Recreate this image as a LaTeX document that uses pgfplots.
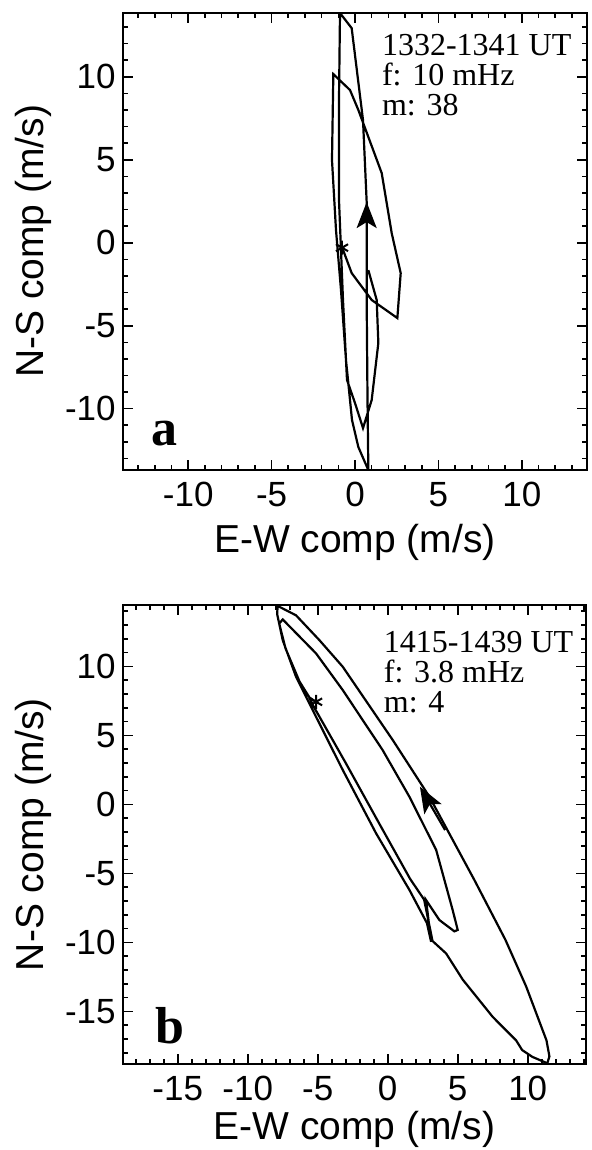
\documentclass[border=0pt]{standalone}
\usepackage{fontspec}
\setmainfont{Liberation Serif}
\setsansfont{Liberation Sans}
\usepackage{pgfplots}
\pgfplotsset{compat=1.18}
\usetikzlibrary{arrows.meta}

\pgfplotsset{
  panel/.style={
    scale only axis,
    axis line style={line width=1pt},
    tick style={black, line width=0.8pt},
    major tick length=5pt, minor tick length=2.5pt,
    tick align=inside,
    ticklabel style={font=\sffamily\fontsize{17.5}{17.5}\selectfont},
    xticklabel style={yshift=-2.5pt},
    label style={font=\sffamily\fontsize{19.5}{19.5}\selectfont},
    xlabel={E-W comp (m/s)}, ylabel={N-S comp (m/s)},
  },
  curve/.style={black, line width=1.1pt, line join=miter, no markers},
  star/.style={black, only marks, mark=asterisk, mark size=3.5pt, mark options={line width=1pt}},
}
\tikzset{
  info/.style={anchor=north west, inner sep=0pt, align=left, font=\rmfamily\fontsize{16}{15}\selectfont},
  letter/.style={anchor=base west, inner sep=0pt, font=\rmfamily\bfseries\fontsize{26}{26}\selectfont},
}

\begin{document}
\begin{tikzpicture}
\begin{axis}[panel, name=a,
    width=232.3pt, height=228.7pt,
    xlabel style={yshift=-2pt},
    xmin=-13.93, xmax=13.93, ymin=-13.7, ymax=13.86,
    xtick={-10,-5,0,5,10}, xticklabels={-10,-5,0,5,10},
    ytick={-10,-5,0,5,10}, yticklabels={-10,-5,0,5,10},
    minor xtick={-13,...,13}, minor ytick={-13,...,13},
]
\addplot[curve] coordinates {
  (-0.78,-0.26) (-0.20,-1.83) (1.00,-3.45) (2.54,-4.54) (2.74,-1.83)
  (2.20,0.58) (1.60,4.20) (0.20,8.0) (-0.30,9.2) (-1.30,10.16)
  (-1.38,4.98) (-1.14,0.77) (-0.84,-2.85) (-0.54,-7.07) (-0.18,-10.68)
  (0.20,-12.31) (0.80,-13.7) (0.75,-9.48) (0.70,-3.45) (0.70,2.45)
  (0.48,7.39) (-0.20,12.93) (-0.90,13.84) (-0.96,8.6) (-0.96,2.57)
  (-0.72,-3.45) (-0.48,-8.27) (0.0,-9.66) (0.48,-11.17) (1.0,-9.48)
  (1.40,-6.04) (1.30,-3.45) (0.80,-1.65)
};
\addplot[curve, -{Stealth[length=13pt,width=10pt,inset=3pt]}] coordinates {(0.7,0.5) (0.7,2.45)};
\addplot[star] coordinates {(-0.78,-0.3)};
\node[info] at (axis cs:1.6,12.6) {1332-1341 UT\\f: 10 mHz\\m: 38};
\node[letter] at (axis cs:-12.2,-12.2) {a};
\end{axis}

\begin{axis}[panel, name=b,
    at={(a.south west)}, anchor=north west, yshift=-67.5pt,
    width=231.7pt, height=229.5pt,
    xlabel style={yshift=1.5pt},
    xmin=-18.93, xmax=14.17, ymin=-18.82, ymax=14.44,
    xtick={-15,-10,-5,0,5,10}, xticklabels={-15,-10,-5,0,5,10},
    ytick={-15,-10,-5,0,5,10}, yticklabels={-15,-10,-5,0,5,10},
    minor xtick={-18,...,14}, minor ytick={-18,...,14},
]
\addplot[curve] coordinates {
  (-5.12,7.43) (-5.6,7.75) (-5.35,7.2) (-3.0,3.0) (-0.6,-1.4)
  (1.6,-5.4) (2.6,-6.9) (3.2,-9.9) (4.17,-10.8) (5.36,-12.7)
  (7.5,-15.4) (9.17,-17.1) (9.6,-17.8) (10.34,-18.3) (11.4,-18.76)
  (11.55,-18.26) (11.34,-17.1) (9.89,-13.2) (8.4,-9.8) (6.2,-5.5)
  (2.98,0.55) (0.36,4.66) (-3.21,9.97) (-4.88,11.9) (-6.55,13.7)
  (-7.86,14.38) (-7.9,13.8) (-7.5,11.9) (-6.55,9.25) (-5.36,6.83)
  (-3.21,2.49) (-0.83,-2.1) (1.55,-6.2) (2.8,-8.6) (3.1,-9.96)
  (2.74,-6.93) (3.69,-8.38) (4.76,-9.2) (5.0,-9.1) (4.64,-7.66)
  (3.46,-3.3) (1.55,0.55) (-0.36,3.93) (-3.21,8.28) (-5.12,10.94)
  (-7.5,13.4) (-7.75,13.1) (-7.3,11.3) (-6.3,8.9) (-5.5,7.6)
};
\addplot[curve, -{Stealth[length=13pt,width=10pt,inset=3pt]}] coordinates {(4.1,-1.86) (2.3,1.28)};
\addplot[star] coordinates {(-5.12,7.43)};
\node[info] at (axis cs:-0.3,12.6) {1415-1439 UT\\f: 3.8 mHz\\m: 4};
\node[letter] at (axis cs:-16.6,-17.3) {b};
\end{axis}

\pgfresetboundingbox
\path[use as bounding box] (a.north west) ++(-61.35pt,6.35pt) rectangle ++(296pt,-575pt);
\end{tikzpicture}
\end{document}
